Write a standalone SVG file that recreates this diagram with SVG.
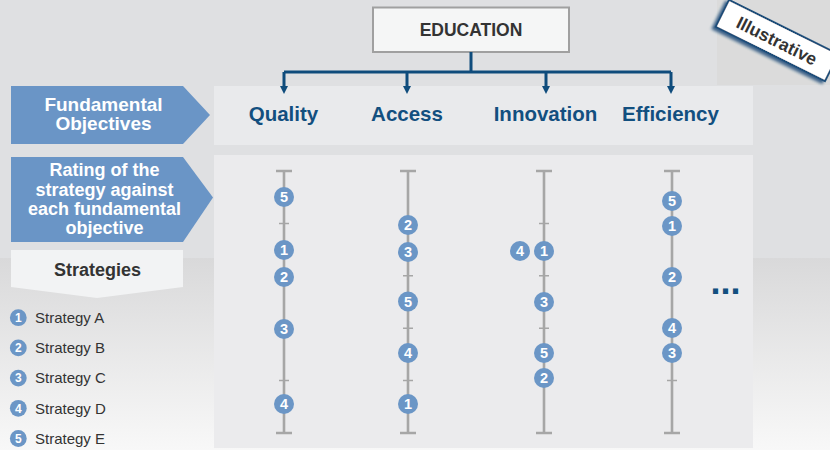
<svg xmlns="http://www.w3.org/2000/svg" width="830" height="450" viewBox="0 0 830 450">
<defs>
<linearGradient id="bgLow" x1="0" y1="0" x2="0" y2="1">
<stop offset="0" stop-color="#d9d9da"/>
<stop offset="1" stop-color="#f8f8f8"/>
</linearGradient>
<filter id="sh" x="-20%" y="-40%" width="140%" height="180%">
<feDropShadow dx="-2" dy="3" stdDeviation="1.6" flood-color="#1f4e79" flood-opacity="0.85"/>
</filter>
</defs>
<style>
.bold{font-family:"Liberation Sans",Arial,sans-serif;font-weight:bold}
.reg{font-family:"Liberation Sans",Arial,sans-serif}
.hdr{font-size:20.5px;fill:#124f7f;text-anchor:middle}
.wt{fill:#ffffff;text-anchor:middle}
.axis{stroke:#a6a6a6;stroke-width:2.6;fill:none}
.cap{stroke:#a6a6a6;stroke-width:2.6}
.tick{stroke:#a6a6a6;stroke-width:1.5}
.dot{fill:#6b96c6}
.num{font-size:14.5px;fill:#ffffff;text-anchor:middle}
.lnum{font-size:12px;fill:#ffffff;text-anchor:middle}
.leg{font-size:15px;fill:#333333}
.conn{stroke:#0f4c7c;stroke-width:3;fill:none}
.head{fill:#0f4c7c}
</style>

<rect x="0" y="0" width="830" height="450" fill="#dfe0e2"/>
<rect x="0" y="258" width="830" height="192" fill="url(#bgLow)"/>
<rect x="717" y="0" width="113" height="85" fill="#dbdbdb"/>

<g id="panel-objectives"><rect x="214" y="86" width="539" height="59" fill="#e9eaec"/></g>
<g id="panel-ratings"><rect x="214" y="155" width="539" height="293" fill="#ebebed"/></g>

<g id="education">
<rect x="373" y="7.5" width="196" height="44.5" fill="#f5f6f6" stroke="#a0a0a0" stroke-width="2"/>
<text class="bold" x="471" y="35.5" font-size="17.5" fill="#333333" text-anchor="middle">EDUCATION</text>
</g>

<g id="tag-illustrative" transform="translate(777 40.5) rotate(26.4)">
<rect x="-61" y="-15" width="122" height="30" fill="#ffffff" stroke="#1f4e79" stroke-width="2" filter="url(#sh)"/>
<text class="bold" x="0" y="6.5" font-size="17.5" fill="#333333" text-anchor="middle">Illustrative</text>
</g>

<g id="connectors">
<path class="conn" d="M471,52 V72"/>
<path class="conn" d="M284,72 H671"/>
<path class="conn" d="M284,72 V87"/>
<path class="conn" d="M407,72 V87"/>
<path class="conn" d="M546,72 V87"/>
<path class="conn" d="M671,72 V87"/>
<path class="head" d="M280,86 H288 L284,94 Z"/>
<path class="head" d="M403,86 H411 L407,94 Z"/>
<path class="head" d="M542,86 H550 L546,94 Z"/>
<path class="head" d="M667,86 H675 L671,94 Z"/>
</g>

<g id="label-fundamental">
<path d="M11,86 H183 L210,115 L183,144 H11 Z" fill="#6a95c6"/>
<text class="bold wt" font-size="19"><tspan x="103.5" y="110.5">Fundamental</tspan><tspan x="103.5" y="130">Objectives</tspan></text>
</g>

<g id="label-rating">
<path d="M11,157 H183 L213,197.5 L183,242 H11 Z" fill="#6a95c6"/>
<text class="bold wt" font-size="18"><tspan x="104.5" y="176">Rating of the</tspan><tspan x="104.5" y="195.5">strategy against</tspan><tspan x="104.5" y="215">each fundamental</tspan><tspan x="104.5" y="234">objective</tspan></text>
</g>

<g id="label-strategies">
<path d="M11,250 H183 V287 L97,298 L11,287 Z" fill="#f2f3f4"/>
<text class="bold" x="97.5" y="276" font-size="18" fill="#333333" text-anchor="middle">Strategies</text>
</g>

<g id="hdr-quality"><text class="bold hdr" x="283.5" y="121">Quality</text></g>
<g id="hdr-access"><text class="bold hdr" x="407" y="121">Access</text></g>
<g id="hdr-innovation"><text class="bold hdr" x="545.5" y="121">Innovation</text></g>
<g id="hdr-efficiency"><text class="bold hdr" x="670.5" y="121">Efficiency</text></g>

<g id="axis-quality">
<path class="axis" d="M284,171 V433"/>
<path class="cap" d="M276,171 H292 M276,433 H292"/>
<path class="tick" d="M279,223.4 H289 M279,275.8 H289 M279,328.2 H289 M279,380.6 H289"/>
<circle class="dot" cx="284" cy="197" r="10"/><text class="bold num" x="284" y="202.2">5</text>
<circle class="dot" cx="284" cy="250" r="10"/><text class="bold num" x="284" y="255.2">1</text>
<circle class="dot" cx="284" cy="277" r="10"/><text class="bold num" x="284" y="282.2">2</text>
<circle class="dot" cx="284" cy="329" r="10"/><text class="bold num" x="284" y="334.2">3</text>
<circle class="dot" cx="284" cy="404" r="10"/><text class="bold num" x="284" y="409.2">4</text>
</g>

<g id="axis-access">
<path class="axis" d="M408,171 V433"/>
<path class="cap" d="M400,171 H416 M400,433 H416"/>
<path class="tick" d="M403,223.4 H413 M403,275.8 H413 M403,328.2 H413 M403,380.6 H413"/>
<circle class="dot" cx="408" cy="225" r="10"/><text class="bold num" x="408" y="230.2">2</text>
<circle class="dot" cx="408" cy="252" r="10"/><text class="bold num" x="408" y="257.2">3</text>
<circle class="dot" cx="408" cy="301.5" r="10"/><text class="bold num" x="408" y="306.7">5</text>
<circle class="dot" cx="408" cy="353" r="10"/><text class="bold num" x="408" y="358.2">4</text>
<circle class="dot" cx="408" cy="404" r="10"/><text class="bold num" x="408" y="409.2">1</text>
</g>

<g id="axis-innovation">
<path class="axis" d="M544,171 V433"/>
<path class="cap" d="M536,171 H552 M536,433 H552"/>
<path class="tick" d="M539,223.4 H549 M539,275.8 H549 M539,328.2 H549 M539,380.6 H549"/>
<circle class="dot" cx="520" cy="251" r="10"/><text class="bold num" x="520" y="256.2">4</text>
<circle class="dot" cx="544" cy="251" r="10"/><text class="bold num" x="544" y="256.2">1</text>
<circle class="dot" cx="544" cy="302" r="10"/><text class="bold num" x="544" y="307.2">3</text>
<circle class="dot" cx="544" cy="353" r="10"/><text class="bold num" x="544" y="358.2">5</text>
<circle class="dot" cx="544" cy="378" r="10"/><text class="bold num" x="544" y="383.2">2</text>
</g>

<g id="axis-efficiency">
<path class="axis" d="M672,171 V433"/>
<path class="cap" d="M664,171 H680 M664,433 H680"/>
<path class="tick" d="M667,223.4 H677 M667,275.8 H677 M667,328.2 H677 M667,380.6 H677"/>
<circle class="dot" cx="672" cy="201" r="10"/><text class="bold num" x="672" y="206.2">5</text>
<circle class="dot" cx="672" cy="226" r="10"/><text class="bold num" x="672" y="231.2">1</text>
<circle class="dot" cx="672" cy="277" r="10"/><text class="bold num" x="672" y="282.2">2</text>
<circle class="dot" cx="672" cy="328" r="10"/><text class="bold num" x="672" y="333.2">4</text>
<circle class="dot" cx="672" cy="353" r="10"/><text class="bold num" x="672" y="358.2">3</text>
</g>

<g id="more"><text class="bold" x="725.5" y="293.5" font-size="36" fill="#124f7f" text-anchor="middle">...</text></g>

<g id="legend">
<circle class="dot" cx="18.3" cy="317.7" r="8.4"/><text class="bold lnum" x="18.3" y="322">1</text>
<text class="reg leg" x="35" y="323">Strategy A</text>
<circle class="dot" cx="18.3" cy="347.9" r="8.4"/><text class="bold lnum" x="18.3" y="352.2">2</text>
<text class="reg leg" x="35" y="353.2">Strategy B</text>
<circle class="dot" cx="18.3" cy="378.1" r="8.4"/><text class="bold lnum" x="18.3" y="382.4">3</text>
<text class="reg leg" x="35" y="383.4">Strategy C</text>
<circle class="dot" cx="18.3" cy="408.3" r="8.4"/><text class="bold lnum" x="18.3" y="412.6">4</text>
<text class="reg leg" x="35" y="413.6">Strategy D</text>
<circle class="dot" cx="18.3" cy="438.5" r="8.4"/><text class="bold lnum" x="18.3" y="442.8">5</text>
<text class="reg leg" x="35" y="443.8">Strategy E</text>
</g>
</svg>
